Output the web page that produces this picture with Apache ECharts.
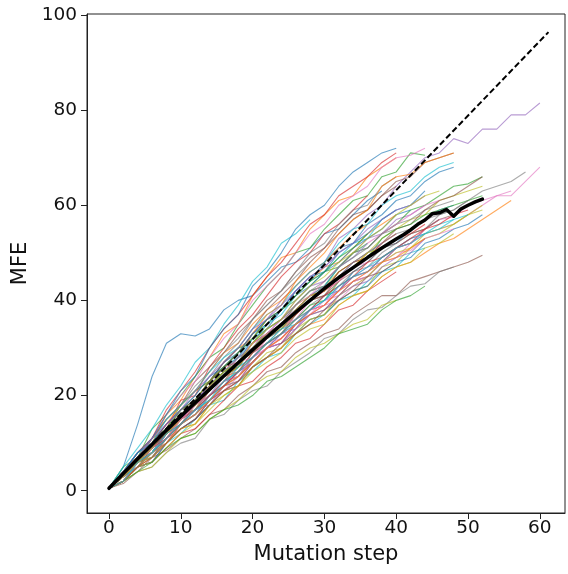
<!DOCTYPE html>
<html>
<head>
<meta charset="utf-8">
<script src="https://cdn.jsdelivr.net/npm/echarts@6/dist/echarts.min.js"></script>
<style>
html,body{margin:0;padding:0;background:#fff;}
#chart{width:568px;height:574px;}
</style>
</head>
<body>
<div id="chart"></div>
<script>
// x positions (mutation steps) at which each walk was read
const steps = [0,2,4,6,8,10,12,14,16,18,20,22,24,26,28,30,32,34,36,38,40,42,44,46,48,50,52,54,56,58,60];
// individual walks: MFE read at the steps above
const walks = [
  [0.5,5,14,24,31,33,32.5,34,38,40,41,44,47,48,51,54,55,58,61,63],
  [0.5,2,7,10,16,19,24,28,33,35,41,45,49,50,55,58,61,62,66,68,70],
  [0.5,5,7,13,16,20,24,28,30,35,39,43,46,50,51,55,58,61,62,66,67,71,70.5],
  [0.5,2,6,9,13,19,20,26,30,34,37,41,45,48,50,54,56,59,62],
  [0.5,2,6,8,12,15,19,22,26,28,33,36,40,43,46,48,53,55,58,60,64,67,70,71,74,73,76,76,79,79,81.5],
  [0.5,1.5,4,7,8.5,11,13,16,17,20,22,25,26,29,31,33,34,37,39,41,41,44,45,46,47,48,49.5],
  [0.5,3.5,5,8,10,14,16,19,21,24,27,30,31,35,37,40,41,44,46,48,49,52,54,55,56,58,60,62,62,65,68],
  [0.5,2,6,8,11,15,17,20,23,26,28,31,34,36,39,41,43,46,47,50,52,54,55,58,59,61,63,64,65,67],
  [0.5,4,7,9,12,16,17,22,24,27,30,33,35,39,41,43,46,48,50,53,55,57,58,61,62,63,64],
  [0.5,2,5,8,10,12,15,18,19,23,25,28,29,33,35,37,40,41,44,46,47,50,51],
  [0.5,3,6,8,11,14,17,19,22,25,27,30,33,35,38,41,42,46,48,51,52,55,57,59,60],
  [0.5,4,8,11,15,18,21,23,27,30,32,36,38,41,44,47,48,51,54,56,58],
  [0.5,4,7,11,13,18,21,23,27,30,31,35,38,40,43,46,47,50,52],
  [0.5,2,5,6,9,12,13,16,19,22,23,26,28,31,32,35,38,39,42,44,46],
  [0.5,3,6,10,12,16,19,22,25,28,31,34,36,40,43,44,47,50,53,54,57,58,60],
  [0.5,4,6,11,15,18,23,26,29,33,36,40,42,46,49,51,55,58,59,62,64],
  [0.5,4,8,10,14,16,18,21,24,25,29,31,32,35,37,39,40,43,45],
  [0.5,2,4,5,8,10,11,15,16,19,21,22,25,27,29,32,33,36,38,38.5,41,43,43.5,46,47],
  [0.5,3,6,8,12,14,16,19,22,23,26,29,30,34,36,37,40,42,43,47,48,51,53,54,56,58,59],
  [0.5,5,9,13,18,22,27,30,35,39,44,47,52,54,57],
  [0.5,3,6,8,12,16,18,22,25,27,32,34,38,42,44,48,51,52,56,58,61,62,65,67,68],
  [0.5,3,5,7,11,15,17,21,24,25,29,32,34,37,40,42,45,47,50],
  [0.5,4,7,9,13,16,18,22,25,27,31,34,36,39,42,43,47,50,51,54,56,59,60,62,64,64.5,66],
  [0.5,3,6,8,11,13,15,19,21,23,27,30,32,35,38,39,42,45,46,49,51,52,55],
  [0.5,4,7,10,14,17,19,23,26,29,33,36,38,42,45,47,50],
  [0.5,2,5,6,10,13,15,19,22,24,27,30,31,35,37,38,41,44,45,48,51,52,55,57,58],
  [0.5,4,8,11,16,20,23,28,32,35,40,43,46,50,54,56,60,62,64,68,70,70.5,72],
  [0.5,3,6,8,12,15,17,21,24,26,30,33,35,39,42,43,47,50,51,54,56,57,59,60,61],
  [0.5,2,4,5,8,11,12,15,17,19,22,24,25,28,30,31,33,35,36,39,40],
  [0.5,3,6,8,13,16,19,23,26,28,32,35,37,41,44,46,49,52,53,57,59],
  [0.5,2,5,6,10,13,15,18,21,22,26,28,30,33,36,37,40,42,43,46,48,49,52,53,55,56,58],
  [0.5,4,7,10,14,18,21,25,29,31,35,38,40,43,46,48,51,54,56],
  [0.5,3,6,7,11,14,16,20,23,24,28,31,33,36,39,40,44],
  [0.5,4,8,11,17,21,25,30,34,37,41,45,48,52,56,58,62,64,66,69,71],
  [0.5,2,5,8,10,14,17,18,22,25,27,30,33,34,38,40,42,45,47,48,51,53,54],
  [0.5,3,6,8,12,15,17,20,23,25,29,31,33,37,40,41,45,47,49,52,55,56,59,61,62,64,66],
  [0.5,4,7,8,12,14,16,20,23,24,28,30,31,34,37,39,42,44,45,48,50,50.5,53,54,55],
  [0.5,3,6,9,13,17,20,24,28,31,36,39,42,46,50,52,56,59,60,64,66],
  [0.5,2,5,6,9,12,14,17,20,22,26,28,30,33,36,37,41,43,45,48,50,51,54,55,56,58,60],
  [0.5,3,6,8,12,14,16,20,24,26,30,32,34,38,41,43,47,49,52],
  [0.5,4,7,9,13,16,19,23,27,29,33,36,38,42,45,46,50,52,54,57,59,60,63],
  [0.5,2,5,7,10,13,14,18,21,22,26,28,30,33,35,36,39,41,42,45,47,48,50,52,53,55,57,59,61],
  [0.5,3,6,8,12,16,18,22,25,26,30,33,35,38,41,42,46,48,49,53,55,56,58,59,60,61,62],
  [0.5,4,7,10,14,17,19,23,26,27,31,33,35,38,41,42,46,48,49,52,54],
  [0.5,3,6,7,11,14,16,19,22,23,27,30,31,34,37,38,41,43,44,47,49,50,53],
  [0.5,2,5,8,12,15,19,23,27,30,34,38,41,44,48,51,54,57,59,62,65,66,69,70,71],
  [0.5,3,6,8,12,15,17,20,23,24,28,30,32,35,38,39,43,45,46,49,51,52,55,57,57.5,60,61,62,63],
  [0.5,4,7,11,15,18,22,25,29,32,36,39,42,45,48],
  [0.5,3,6,7,10,13,14,18,20,22,25,27,29,32,34,35,39,41,42,45,47,48,51,52,54],
  [0.5,4,8,10,15,18,21,25,28,30,34,37,39,43,46,48,52,55,56,60,62,63,66,68,69],
  [0.5,4,8,11,16,21,24,30,34,37,43,46,50,55,58,60,64,67,69,71,72],
  [0.5,4,7,9,13,16,19,23,26,29,33,37,39,44,47,50,54,57,59,64,66,66.5,69,70,71],
  [0.5,2,4,6,9,11,12,15,17,18,20,23,24,26,28,30,33,34,35,38,40,41,43],
  [0.5,3,7,9,12,15,18,21,24,26,30,32,35,37,40,42,44,47,49,51,53,54,56],
  [0.5,4,6,10,13,15,19,22,24,28,30,33,36,38,41,43,45,48,50,52],
  [0.5,3,5,9,12,14,18,20,23,27,29,32,34,37,40,41,44,46,48,51,52,54,55,57],
  [0.5,2,6,9,11,15,18,20,24,27,28,32,35,36,40,42,44,47,48],
  [0.5,4,7,9,13,16,18,22,25,27,30,33,35,38,40,43,45,48,50,52,54,55,57,58,59,61],
  [0.5,3,6,10,12,15,19,21,24,26,30,33,34,38,41,42,45,47,50,51,53],
  [0.5,3,5,8,12,14,17,20,22,26,28,31,34,35,38,40,43,45,46,49,51,53,54,56,57],
  [0.5,4,8,10,14,17,20,24,26,29,33,35,38,41,43,46,48,51,53,55,58,59],
  [0.5,2,5,8,10,14,16,19,22,24,27,30,32,35,37,39,42,44,46,48,49,51,53],
  [0.5,3,7,10,13,17,19,23,26,29,32,36,38,41,44,46,49,51,54],
  [0.5,3,6,9,11,14,17,20,22,25,28,31,33,36,38,41,43,45,48,49,51,53,55,56,58,59],
  [0.5,4,7,11,14,17,21,24,27,30,34,36,39,42,45,47,50,52,55,57,59,60,62],
  [0.5,2,5,7,10,13,15,18,21,23,26,28,31,33,35,38,40,42,45,46,48],
  [0.5,3,7,9,13,15,18,22,24,27,31,33,36,39,41,44,47,49,52,54,56,58,60,61],
  [0.5,4,6,9,13,16,19,21,25,28,30,34,36,39,42,44,47,49,51,54,55],
  [0.5,3,6,9,13,16,18,22,25,27,31,34,36,40,43,45,48,50,53,55,58,60,62,63],
  [0.5,2,6,8,11,14,17,19,23,25,28,31,33,36,38,40,43,45,47,49,51,52,54,55,57,58]
];
// mean walk
const meanX = [0,2,4,6,8,10,12,14,16,18,20,22,24,26,28,30,32,34,36,38,40,41,42,43,44,45,46,47,48,49,50,51,52];
const meanY = [0.5,3.6,6.7,9.7,12.7,15.6,18.5,21.3,24.1,26.9,29.6,32.3,34.9,37.5,40.0,42.5,44.8,46.9,49.0,51.0,52.9,53.8,54.8,56.0,56.9,58.2,58.4,59.1,57.7,59.2,60.0,60.7,61.3];
// dashed reference line
const refX = [0, 61.2];
const refY = [0.5, 96.4];
const xTicks = [0,10,20,30,40,50,60];
const yTicks = [0,20,40,60,80,100];

const palette = ['#1f77b4','#ff7f0e','#2ca02c','#d62728','#9467bd','#8c564b','#e377c2','#7f7f7f','#bcbd22','#17becf'];
const FONT = 'DejaVu Sans';

const series = walks.map((w, i) => ({
  type: 'line',
  data: w.map((v, j) => [steps[j], v]),
  showSymbol: false,
  silent: true,
  z: 2,
  lineStyle: { width: 1.1, color: palette[i % palette.length], opacity: 0.65 }
}));
series.push({
  type: 'line',
  data: refX.map((x, i) => [x, refY[i]]),
  showSymbol: false, silent: true, z: 4,
  lineStyle: { width: 2, color: '#000', type: [6, 3] }
});
series.push({
  type: 'line',
  data: meanX.map((x, i) => [x, meanY[i]]),
  showSymbol: false, silent: true, z: 5,
  lineStyle: { width: 3.5, color: '#000', join: 'round', cap: 'round' }
});

const chart = echarts.init(document.getElementById('chart'), null, { renderer: 'canvas' });
chart.setOption({
  animation: false,
  backgroundColor: '#fff',
  grid: { left: 87, right: 3, top: 14, bottom: 61, show: true, borderColor: '#222', borderWidth: 1, backgroundColor: 'transparent' },
  xAxis: {
    type: 'value', min: -3.06, max: 63.5,
    name: 'Mutation step', nameLocation: 'middle', nameGap: 31,
    nameTextStyle: { fontSize: 21, fontFamily: FONT, color: '#111' },
    axisLine: { show: true, onZero: false, lineStyle: { color: '#222', width: 1 } },
    axisTick: { show: true, customValues: xTicks, length: 6, lineStyle: { color: '#222', width: 1 } },
    axisLabel: { customValues: xTicks, fontSize: 18.5, fontFamily: FONT, color: '#111', margin: 6 },
    splitLine: { show: false }
  },
  yAxis: {
    type: 'value', min: -4.69, max: 100.2,
    name: 'MFE', nameLocation: 'middle', nameGap: 52, nameRotate: 90,
    nameTextStyle: { fontSize: 21, fontFamily: FONT, color: '#111' },
    axisLine: { show: true, onZero: false, lineStyle: { color: '#222', width: 1 } },
    axisTick: { show: true, customValues: yTicks, length: 6, lineStyle: { color: '#222', width: 1 } },
    axisLabel: { customValues: yTicks, fontSize: 18.5, fontFamily: FONT, color: '#111', margin: 10 },
    splitLine: { show: false }
  },
  series: series
});
</script>
</body>
</html>
